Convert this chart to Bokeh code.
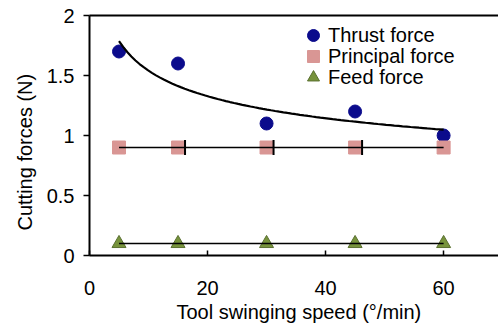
import numpy as np
from bokeh.plotting import figure
from bokeh.models import LinearAxis, Title, Legend, LegendItem, Range1d, FixedTicker
from bokeh.embed import file_html
from bokeh.resources import INLINE

# ---- data ----
speed = [5, 15, 30, 45, 60]                 # Tool swinging speed (deg/min)
thrust = [1.70, 1.60, 1.10, 1.20, 1.00]     # Thrust force (N)
principal = [0.90, 0.90, 0.90, 0.90, 0.90]  # Principal force (N)
feed = [0.10, 0.10, 0.10, 0.10, 0.10]       # Feed force (N)
x_ticks = [0, 20, 40, 60]
y_ticks = [0, 0.5, 1, 1.5, 2]
y_tick_labels = ["0", "0.5", "1", "1.5", "2"]
series_names = ["Thrust force", "Principal force", "Feed force"]

FONT = "Liberation Sans"
FS = "20px"
X_PX_PER_UNIT = (498 - 89) / 69.3
Y_PX_PER_UNIT = (255 - 15) / 2.0

p = figure(width=498, height=324, x_range=Range1d(0, 69.3), y_range=Range1d(0, 2),
           output_backend="svg", toolbar_location=None,
           min_border_left=89, min_border_right=0, min_border_top=15, min_border_bottom=69)
p.outline_line_color = None
p.xgrid.visible = False
p.ygrid.visible = False
p.background_fill_color = "white"
p.border_fill_color = "white"

r_t = p.scatter(speed, thrust, marker="circle", size=13, fill_color="#0b0b8c", line_color="#0b0b8c")
r_p = p.scatter(speed, principal, marker="square", size=13, fill_color="#d99694", line_color="#d99694")
r_f = p.scatter(speed, feed, marker="triangle", size=14, fill_color="#77933c", line_color="#5a7030", line_width=1)

# trend lines (fits computed from the series), drawn over the markers
xs = np.array(speed, dtype=float)
b, lna = np.polyfit(np.log(xs), np.log(np.array(thrust)), 1)
xc = np.linspace(xs.min(), xs.max(), 80)
p.line(xc, np.exp(lna) * xc ** b, line_color="black", line_width=2.2)
cp = np.polyfit(xs, np.array(principal), 1)
p.line([xs.min(), xs.max()], np.polyval(cp, [xs.min(), xs.max()]), line_color="black", line_width=1.6)
cf = np.polyfit(xs, np.array(feed), 1)
p.line([xs.min(), xs.max()], np.polyval(cf, [xs.min(), xs.max()]), line_color="black", line_width=1.6)

# short vertical marks at the right edge of the middle principal-force squares
half_sq = 7 / X_PX_PER_UNIT
bar_h = 7.5 / Y_PX_PER_UNIT
mx = [s + half_sq for s in speed[1:4]]
my = principal[1:4]
p.segment(x0=mx, y0=[v - bar_h for v in my], x1=mx, y1=[v + bar_h for v in my],
          line_color="black", line_width=2)

# axes
for ax in (p.xaxis[0], p.yaxis[0]):
    ax.axis_line_width = 2
    ax.minor_tick_line_color = None
    ax.major_label_text_font = FONT
    ax.major_label_text_font_size = FS
    ax.major_label_text_color = "black"
    ax.axis_line_color = "black"
    ax.major_tick_line_color = "black"

xa = p.xaxis[0]
xa.ticker = FixedTicker(ticks=x_ticks)
xa.major_tick_in = 5
xa.major_tick_out = 0
xa.major_tick_line_width = 1.5
xa.major_label_standoff = 25

ya = p.yaxis[0]
ya.ticker = FixedTicker(ticks=y_ticks)
ya.major_label_overrides = {t: l for t, l in zip(y_ticks, y_tick_labels)}
ya.major_tick_in = 0
ya.major_tick_out = 6
ya.major_tick_line_width = 1.5
ya.major_label_standoff = 9

top = LinearAxis(ticker=FixedTicker(ticks=[]), axis_line_width=2, axis_line_color="black",
                 major_tick_line_color=None, minor_tick_line_color=None,
                 major_label_text_font_size="0px")
p.add_layout(top, "above")

p.add_layout(Title(text="Tool swinging speed (°/min)", align="left", offset=87,
                   text_font=FONT, text_font_size=FS, text_font_style="normal",
                   text_color="black", standoff=2), "below")
p.add_layout(Title(text="Cutting forces (N)", align="left", offset=25,
                   text_font=FONT, text_font_size=FS, text_font_style="normal",
                   text_color="black", standoff=16), "left")

# one legend per entry so the glyph boxes can be large while rows stay 21px apart
for i, (name, r) in enumerate(zip(series_names, [r_t, r_p, r_f])):
    lg = Legend(items=[LegendItem(label=name, renderers=[r])],
                location=(209, 205 - 21 * i), orientation="vertical",
                label_text_font=FONT, label_text_font_size=FS, label_text_color="black",
                glyph_width=30, glyph_height=30, label_height=30, label_standoff=0,
                spacing=0, padding=0, margin=0,
                border_line_color=None, background_fill_alpha=0)
    p.add_layout(lg)

open("out.html", "w").write(file_html(p, INLINE))
